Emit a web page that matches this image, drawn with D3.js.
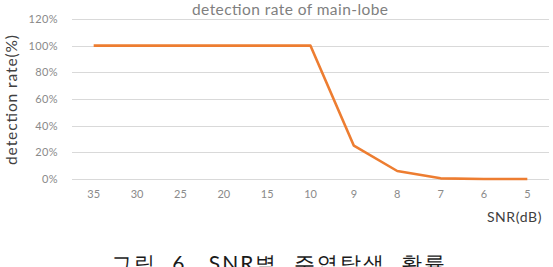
<!DOCTYPE html>
<html>
<head>
<meta charset="utf-8">
<script src="https://cdn.jsdelivr.net/npm/d3@7"></script>
<style>
  body { margin: 0; background: #fff; }
  svg { display: block; }
  text { font-family: Lato, "Open Sans", sans-serif; }
</style>
</head>
<body>
<div id="chart"></div>
<script>
// Chart dimensions
const width = 553;
const height = 267;
const margin = {top: 19, right: 4, bottom: 88, left: 72};

// Data
const snrLabels = ["35", "30", "25", "20", "15", "10", "9", "8", "7", "6", "5"];
const detectionRate = [1, 1, 1, 1, 1, 1, 0.25, 0.06, 0.005, 0, 0];
const yTicks = [0, 0.2, 0.4, 0.6, 0.8, 1.0, 1.2];

const svg = d3.select("#chart")
    .append("svg")
    .attr("width", width)
    .attr("height", height);

// Scales
const x = d3.scaleBand()
    .domain(snrLabels)
    .range([margin.left, width - margin.right]);

const y = d3.scaleLinear()
    .domain([0, 1.2])
    .range([179, margin.top]);

// Gridlines
svg.append("g")
    .selectAll("line")
    .data(yTicks)
    .join("line")
    .attr("x1", margin.left)
    .attr("x2", width - margin.right)
    .attr("y1", d => Math.round(y(d)) + 0.5)
    .attr("y2", d => Math.round(y(d)) + 0.5)
    .attr("stroke", "#d9d9d9")
    .attr("stroke-width", 1);

// Y axis labels
const yAxis = d3.axisLeft(y)
    .tickValues(yTicks)
    .tickFormat(d3.format(".0%"))
    .tickSize(0)
    .tickPadding(14);

svg.append("g")
    .attr("transform", `translate(${margin.left},0)`)
    .call(yAxis)
    .call(g => g.select(".domain").remove())
    .selectAll("text")
    .attr("font-family", "Lato, sans-serif")
    .attr("font-size", 11)
    .attr("letter-spacing", 0.4)
    .attr("fill", "#8a8a8a");

// X axis labels
const xAxis = d3.axisBottom(x)
    .tickSize(0)
    .tickPadding(11);

svg.append("g")
    .attr("transform", `translate(0,${y(0)})`)
    .call(xAxis)
    .call(g => g.select(".domain").remove())
    .selectAll("text")
    .attr("font-family", "Lato, sans-serif")
    .attr("font-size", 11)
    .attr("fill", "#8a8a8a");

// Line
const line = d3.line()
    .x((d, i) => x(snrLabels[i]) + x.bandwidth() / 2)
    .y(d => y(d));

svg.append("path")
    .datum(detectionRate)
    .attr("fill", "none")
    .attr("stroke", "#ed7d31")
    .attr("stroke-width", 2.6)
    .attr("stroke-linejoin", "round")
    .attr("d", line);

// Chart title
svg.append("text")
    .attr("x", 290)
    .attr("y", 15)
    .attr("text-anchor", "middle")
    .attr("font-size", 15.5)
    .attr("textLength", 196)
    .attr("fill", "#7f7f7f")
    .text("detection rate of main-lobe");

// Y axis title
svg.append("text")
    .attr("transform", "translate(17,100) rotate(-90)")
    .attr("text-anchor", "middle")
    .attr("font-size", 15.5)
    .attr("textLength", 130)
    .attr("fill", "#404040")
    .text("detection rate(%)");

// X axis title
svg.append("text")
    .attr("x", 542)
    .attr("y", 222)
    .attr("text-anchor", "end")
    .attr("font-size", 14)
    .attr("letter-spacing", 0.6)
    .attr("fill", "#404040")
    .text("SNR(dB)");

// Caption
svg.append("text")
    .attr("x", 279)
    .attr("y", 271)
    .attr("text-anchor", "middle")
    .attr("font-family", "'Noto Sans CJK KR', sans-serif")
    .attr("font-size", 21)
    .attr("letter-spacing", 2)
    .attr("word-spacing", 8)
    .attr("fill", "#1a1a1a")
    .text("그림 6. SNR별 주엽탐색 확률");
</script>
</body>
</html>
